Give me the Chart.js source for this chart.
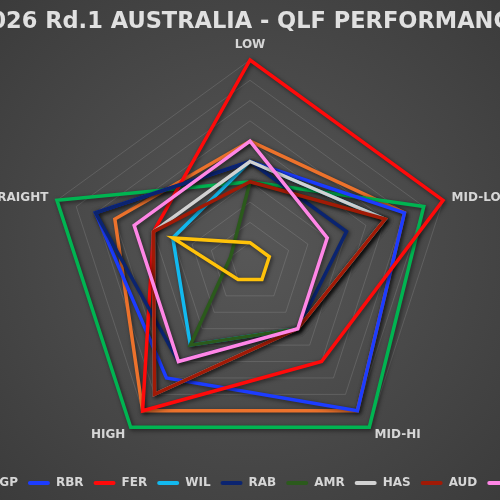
<!DOCTYPE html>
<html>
<head>
<meta charset="utf-8">
<script src="https://cdn.jsdelivr.net/npm/chart.js@4.4.1/dist/chart.umd.min.js"></script>
<style>
  html, body { margin: 0; padding: 0; background: #454545; }
  #wrap { width: 500px; height: 500px; }
</style>
</head>
<body>
<div id="wrap"><canvas id="chart"></canvas></div>
<script>
// axes go clockwise from the top
const axes = ['LOW', 'MID-LO', 'MID-HI', 'HIGH', 'STRAIGHT'];
const teams = ['MCL', 'MGP', 'RBR', 'FER', 'WIL', 'RAB', 'AMR', 'HAS', 'AUD', 'ALP', 'CAD'];
const teamColors = ['#ec722c', '#00b451', '#1c3cff', '#ff0a0a', '#12b9ef', '#0b2470',
                    '#2b5a1c', '#d2d2d2', '#a11a06', '#ff86e6', '#ffc20a'];

// scores per axis: LOW, MID-LO, MID-HI, HIGH, STRAIGHT
const mcl = [6, 8, 9, 9, 7];
const mgp = [4, 9, 10, 10, 10];
const rbr = [5, 8, 9, 7, 8];
const fer = [10, 10, 6, 9, 5];
const wil = [5, 7, 4, 5, 4];
const rab = [5, 5, 4, 6, 8];
const amr = [4, 7, 4, 5, 1];
const has = [5, 7, 4, 8, 5];
const aud = [4, 7, 4, 8, 5];
const alp = [6, 4, 4, 6, 6];
const cad = [1, 1, 1, 1, 4];
const scores = [mcl, mgp, rbr, fer, wil, rab, amr, has, aud, alp, cad];

const background = {
  id: 'background',
  beforeDraw(chart) {
    const { ctx, width, height } = chart;
    const g = ctx.createRadialGradient(width / 2, height / 2, 0, width / 2, height / 2, width * 0.72);
    g.addColorStop(0, '#575757');
    g.addColorStop(1, '#3b3b3b');
    ctx.save();
    ctx.fillStyle = g;
    ctx.fillRect(0, 0, width, height);
    ctx.restore();
  }
};

// soft drop shadow under the team lines
const lineShadow = {
  id: 'lineShadow',
  beforeDatasetsDraw(chart) {
    const ctx = chart.ctx;
    ctx.save();
    ctx.shadowColor = 'rgba(0,0,0,0.55)';
    ctx.shadowBlur = 4;
    ctx.shadowOffsetX = 1.5;
    ctx.shadowOffsetY = 1.5;
  },
  afterDatasetsDraw(chart) {
    chart.ctx.restore();
  }
};

// axis names, placed from the radial scale
const axisLabels = {
  id: 'axisLabels',
  afterDraw(chart) {
    const scale = chart.scales.r;
    const ctx = chart.ctx;
    ctx.save();
    ctx.font = 'bold 12px "DejaVu Sans"';
    ctx.fillStyle = '#d6d6d6';
    chart.data.labels.forEach((label, i) => {
      const p = scale.getPointPosition(i, scale.drawingArea + 9);
      const dx = p.x - scale.xCenter;
      if (Math.abs(dx) < 1) {
        ctx.textAlign = 'center';
        ctx.textBaseline = 'alphabetic';
        ctx.fillText(label, p.x, p.y - 3);
      } else {
        ctx.textAlign = dx > 0 ? 'left' : 'right';
        ctx.textBaseline = 'middle';
        ctx.fillText(label, p.x, p.y);
      }
    });
    ctx.restore();
  }
};

const ctx = document.getElementById('chart').getContext('2d');
new Chart(ctx, {
  type: 'radar',
  data: {
    labels: axes,
    datasets: teams.map((team, i) => ({
      label: team,
      data: scores[i],
      borderColor: teamColors[i],
      backgroundColor: 'transparent',
      borderWidth: 3.5,
      borderJoinStyle: 'miter',
      fill: false,
      pointRadius: 0,
      pointHoverRadius: 0,
      order: teams.length - i
    }))
  },
  options: {
    responsive: true,
    maintainAspectRatio: false,
    animation: false,
    layout: {
      padding: { left: -150, right: -150, top: 0, bottom: 1 }
    },
    scales: {
      r: {
        min: 0,
        max: 10,
        ticks: { display: false, stepSize: 1 },
        pointLabels: { display: false },
        angleLines: { display: false },
        grid: { color: 'rgba(255,255,255,0.12)', lineWidth: 1 }
      }
    },
    plugins: {
      title: {
        display: true,
        text: '2026 Rd.1 AUSTRALIA - QLF PERFORMANCE',
        color: '#e0e0e0',
        font: { family: 'DejaVu Sans', size: 22.5, weight: 'bold' },
        padding: { top: 9, bottom: 24 }
      },
      legend: {
        position: 'bottom',
        labels: {
          color: '#d6d6d6',
          font: { family: 'DejaVu Sans', size: 12, weight: 'bold' },
          boxWidth: 22,
          boxHeight: 4,
          padding: 10,
          useBorderRadius: true,
          borderRadius: 2,
          sort: (a, b) => a.datasetIndex - b.datasetIndex,
          generateLabels: (chart) => Chart.defaults.plugins.legend.labels.generateLabels(chart)
            .map(item => Object.assign(item, { fillStyle: item.strokeStyle, lineWidth: 0 }))
        }
      },
      tooltip: { enabled: false }
    }
  },
  plugins: [background, lineShadow, axisLabels]
});
</script>
</body>
</html>
